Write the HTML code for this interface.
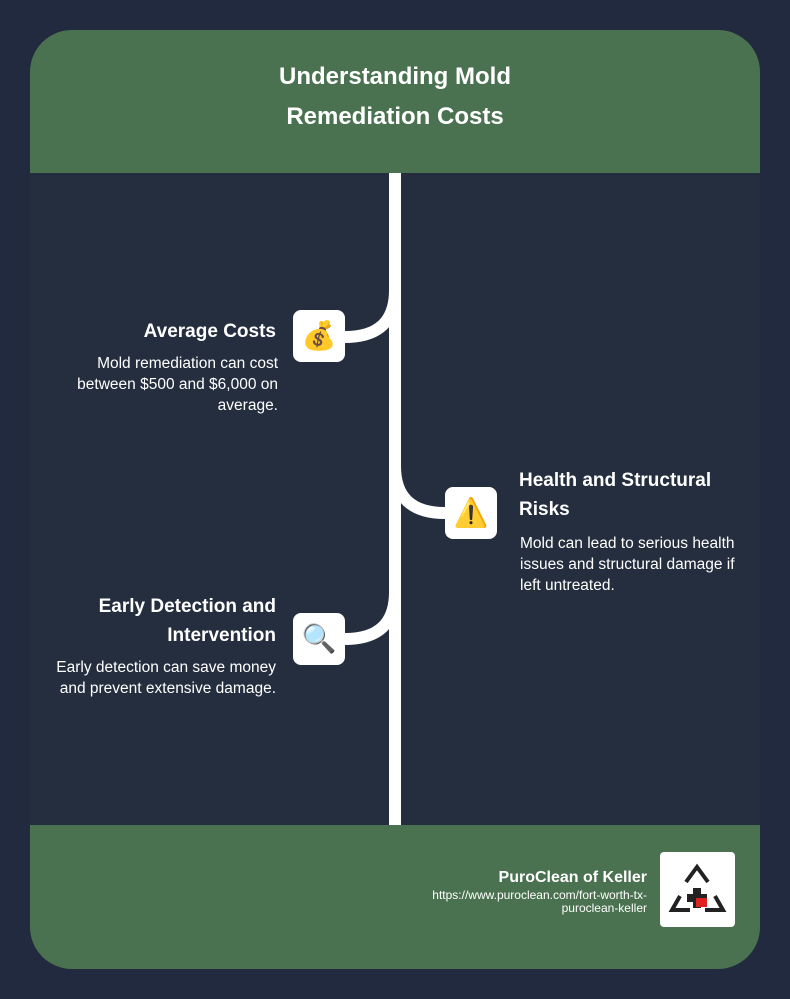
<!DOCTYPE html>
<html><head><style>
body{margin:0;width:790px;height:999px;background:#212a3e;font-family:"Liberation Sans",Roboto,sans-serif;position:relative;overflow:hidden}
.card{position:absolute;left:30px;top:30px;width:730px;height:939px;border-radius:42px;background:#242e3e;overflow:hidden}
.hdr{position:absolute;left:0;top:0;width:730px;height:143px;background:#4a7250;color:#fff;font-weight:bold;font-size:24px;text-align:center;line-height:40px;padding-top:27px;box-sizing:border-box}
.ftr{position:absolute;left:0;top:795px;width:730px;height:144px;background:#4a7250}
.t{position:absolute;color:#fff}
.h{font-weight:bold;font-size:19px;line-height:29px}
.p{font-size:15.5px;line-height:21px}
.box{position:absolute;width:52px;height:52px;background:#fff;border-radius:8px;font-size:28px;text-align:center;line-height:52px}
</style></head><body>
<div class="card">
<div class="hdr">Understanding Mold<br>Remediation Costs</div>
<div class="ftr"></div>
</div>
<svg style="position:absolute;left:0;top:0" width="790" height="999">
<g stroke="#fff" stroke-width="12" fill="none">
<line x1="395" y1="173" x2="395" y2="825"/>
<path d="M395 290 Q395 337 345 337"/>
<path d="M395 466 Q395 513 445 513"/>
<path d="M395 592 Q395 639 345 639"/>
</g></svg>
<div class="box" style="left:293px;top:310px">💰</div>
<div class="box" style="left:445px;top:487px">⚠️</div>
<div class="box" style="left:293px;top:613px">🔍</div>
<div class="t h" style="right:514px;top:317px;text-align:right">Average Costs</div>
<div class="t p" style="right:512px;top:353px;width:240px;text-align:right">Mold remediation can cost between $500 and $6,000 on average.</div>
<div class="t h" style="left:519px;top:466px;width:230px">Health and Structural Risks</div>
<div class="t p" style="left:520px;top:533px;width:232px">Mold can lead to serious health issues and structural damage if left untreated.</div>
<div class="t h" style="right:514px;top:592px;width:240px;text-align:right">Early Detection and Intervention</div>
<div class="t p" style="right:514px;top:657px;width:245px;text-align:right">Early detection can save money and prevent extensive damage.</div>
<div class="t" style="right:143px;top:869px;text-align:right;font-weight:bold;font-size:16px">PuroClean of Keller</div>
<div class="t" style="right:143px;top:889px;text-align:right;font-size:12px;line-height:13px;width:280px">https://www.puroclean.com/fort-worth-tx-<br>puroclean-keller</div>
<div style="position:absolute;left:660px;top:852px;width:75px;height:75px;background:#fff;border-radius:4px">
<svg width="75" height="75"><g fill="none" stroke="#222" stroke-width="4">
<path d="M26 30 L37 15 L48 30"/><path d="M20 44 L12 58 L30 58"/><path d="M55 44 L63 58 L45 58"/></g>
<path d="M33 36h8v6h6v8h-6v6h-8v-6h-6v-8h6z" fill="#222"/>
<rect x="36" y="46" width="11" height="9" fill="#d22"/></svg></div>
</body></html>
